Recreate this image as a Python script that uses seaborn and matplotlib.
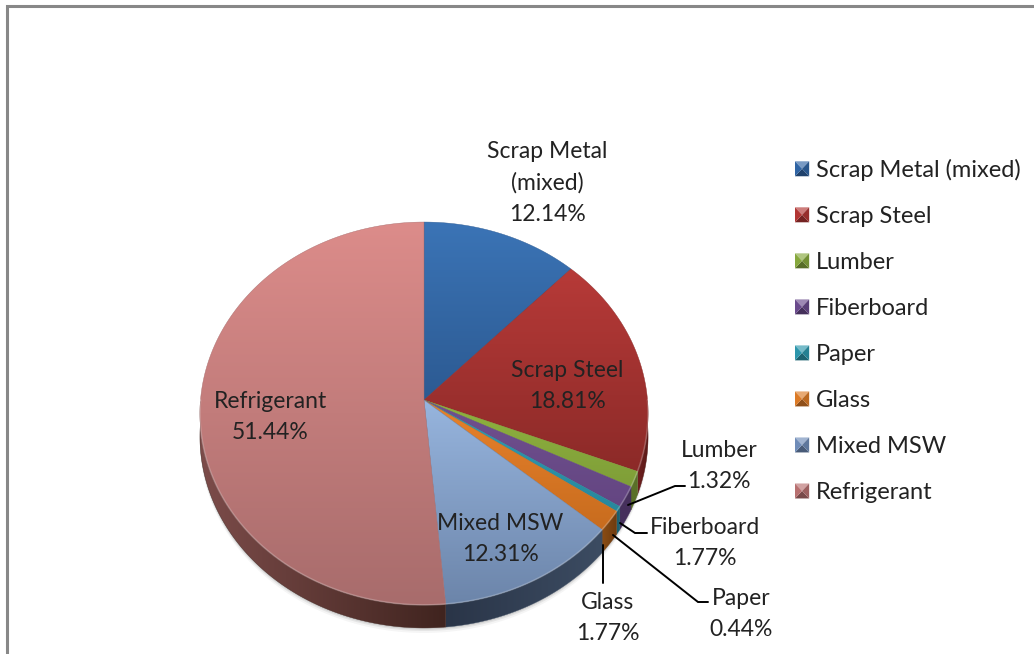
import numpy as np
import matplotlib
matplotlib.use("Agg")
import matplotlib.pyplot as plt
from matplotlib.colors import to_rgb
from matplotlib.legend_handler import HandlerPatch
from matplotlib.patches import Patch, Polygon
import seaborn as sns

# === Daten ===
categories = ["Scrap Metal (mixed)", "Scrap Steel", "Lumber", "Fiberboard",
              "Paper", "Glass", "Mixed MSW", "Refrigerant"]
shares = [12.14, 18.81, 1.32, 1.77, 0.44, 1.77, 12.31, 51.44]
slice_labels = ["Scrap Metal\n(mixed)", "Scrap Steel", "Lumber", "Fiberboard",
                "Paper", "Glass", "Mixed MSW", "Refrigerant"]

# === Farben ===
top_colors = ["#3b74b6", "#b73a38", "#8fb23f", "#70508f", "#2f9fb5", "#e8822c", "#97b5de", "#dc8c8a"]
bottom_colors = ["#2c5a92", "#8c2a28", "#7f9e38", "#644682", "#28889c", "#c86c1e", "#6c85aa", "#a86c6c"]
wall_left = ["#1f3f68", "#6e1f1e", "#5a7028", "#46305c", "#1c6070", "#8a4c14", "#2a3548", "#7c4c4a"]
wall_right = ["#1f3f68", "#5a1a18", "#5a7028", "#46305c", "#1c6070", "#6e3c10", "#3c4c62", "#40241f"]
legend_colors = ["#2f64a4", "#b23634", "#86a83c", "#6a4a8c", "#2c96ac", "#dc7a26", "#6f8cb8", "#b87070"]

sns.set_theme(style="white")
plt.rcParams["font.family"] = ["Lato", "DejaVu Sans"]

PX = 1034
PY = 654
CX, CY = 424, 400      # Mittelpunkt
RX, RY = 223.5, 190.5
TILT = 0.0705          # Perspektive
DEPTH = 23


def rim(theta_deg):
    t = np.radians(theta_deg)
    w = 1 + TILT * np.sin(t)
    return CX + RX * np.cos(t) / w, CY - RY * np.sin(t) / w


def gradient_patch(ax, poly_xy, c_start, c_end, horizontal=False, zorder=2):
    a = np.array(to_rgb(c_start))
    b = np.array(to_rgb(c_end))
    ramp = np.linspace(a, b, 128)
    img = ramp[None, :, :] if horizontal else ramp[:, None, :]
    xs, ys = poly_xy[:, 0], poly_xy[:, 1]
    im = ax.imshow(img, extent=(xs.min(), xs.max(), ys.max(), ys.min()), origin="upper",
                   aspect="auto", interpolation="bilinear", zorder=zorder)
    clip = Polygon(poly_xy, closed=True, transform=ax.transData)
    im.set_clip_path(clip)
    ax.add_patch(Polygon(poly_xy, closed=True, fc="none", ec=c_end, lw=0.3, zorder=zorder))


class PyramidKey(HandlerPatch):
    # Legendensymbol mit abgeschraegten Kanten
    def create_artists(self, legend, orig_handle, xdescent, ydescent, width, height, fontsize, trans):
        c = np.array(to_rgb(orig_handle.get_facecolor()))
        x0, y0 = -xdescent, -ydescent
        x1, y1 = x0 + width, y0 + height
        mx, my = (x0 + x1) / 2, (y0 + y1) / 2
        light = c + (1 - c) * 0.35
        dark = c * 0.65
        tris = [([(x0, y1), (x1, y1), (mx, my)], light),
                ([(x0, y0), (x1, y0), (mx, my)], dark),
                ([(x0, y0), (x0, y1), (mx, my)], c),
                ([(x1, y0), (x1, y1), (mx, my)], c * 0.85)]
        return [Polygon(p, closed=True, fc=col, ec="none", transform=trans) for p, col in tris]


fig = plt.figure(figsize=(PX / 100, PY / 100), dpi=100, facecolor="white")
ax = fig.add_axes([0, 0, 1, 1])

wedges, _ = ax.pie(shares, startangle=90, counterclock=False, colors=top_colors)
thetas = [(w.theta1, w.theta2) for w in wedges]
for w in wedges:
    w.remove()

# weicher Schatten unter dem Kuchen
sweep = np.linspace(0, 360, 361)
sx, sy = rim(sweep)
for off, alpha in [(5, 0.06), (3, 0.10), (1.5, 0.14)]:
    ax.fill(sx, sy + DEPTH + off, color="#555555", alpha=alpha, lw=0, zorder=1)

# Seitenwand
for (t1, t2), cl, cr in zip(thetas, wall_left, wall_right):
    th = np.linspace(t1, t2, 300)
    th = th[np.sin(np.radians(th)) <= 0]
    if len(th) < 2:
        continue
    x, y = rim(th)
    poly = np.column_stack([np.r_[x, x[::-1]], np.r_[y, y[::-1] + DEPTH]])
    gradient_patch(ax, poly, cl, cr, horizontal=True, zorder=2)

# Deckflaeche
for (t1, t2), ct, cb in zip(thetas, top_colors, bottom_colors):
    th = np.linspace(t1, t2, 300)
    x, y = rim(th)
    poly = np.column_stack([np.r_[CX, x], np.r_[CY, y]])
    gradient_patch(ax, poly, ct, cb, zorder=3)

# heller Rand an der Vorderkante
th = np.linspace(-180, 0, 300)
fx, fy = rim(th)
ax.plot(fx, fy, color="white", alpha=0.22, lw=1.2, zorder=4)

# === Beschriftungen ===
label_pos = [(547, 183), (567, 386), (719, 466), (705, 543), (741, 614), (608, 618), (500, 539), (270, 417)]
for name, val, (lx, ly) in zip(slice_labels, shares, label_pos):
    ax.text(lx, ly, f"{name}\n{val:.2f}%", ha="center", va="center", fontsize=16.5,
            color="#222222", linespacing=1.58, zorder=6)

leaders = [[(628, 505), (675, 486), (685, 486)],
           [(620, 523), (635, 533), (647, 533)],
           [(613, 535), (698, 602), (708, 602)],
           [(603, 545), (603, 583)]]
for seg in leaders:
    xs, ys = zip(*seg)
    ax.plot(xs, ys, color="black", lw=1.4, zorder=5, solid_joinstyle="miter")

handles = [Patch(facecolor=c, label=n) for c, n in zip(legend_colors, categories)]
ax.legend(handles=handles, handler_map={Patch: PyramidKey()}, loc="upper left",
          bbox_to_anchor=(795, 159), bbox_transform=ax.transData, frameon=False,
          fontsize=17, borderpad=0, borderaxespad=0, labelspacing=1.06,
          handlelength=0.6, handleheight=0.6, handletextpad=0.3, labelcolor="#222222")

# Rahmen oben und links
ax.plot([7, 7, PX], [PY, 6, 6], color="#888888", lw=2.2, solid_joinstyle="miter", zorder=7)

ax.set_aspect("auto")
ax.set_xlim(0, PX)
ax.set_ylim(PY, 0)
ax.axis("off")

plt.savefig("out.png", dpi=100)
plt.close()
